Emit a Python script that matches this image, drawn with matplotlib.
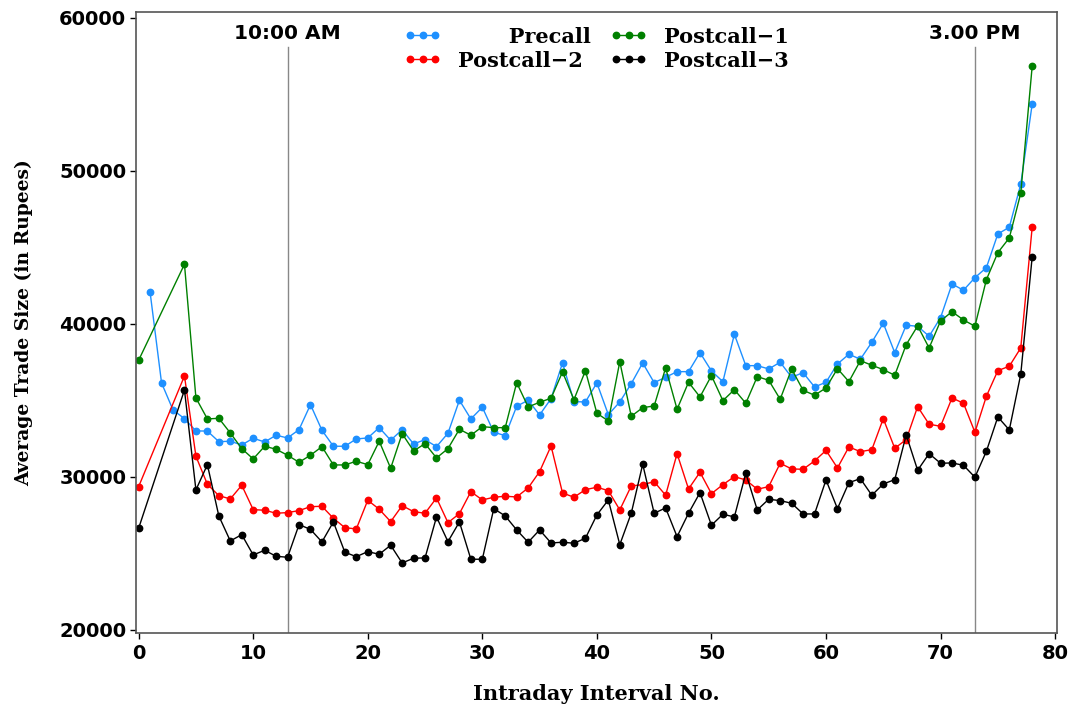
import matplotlib
matplotlib.use("Agg")
import matplotlib.pyplot as plt
import numpy as np

# ---------------- data ----------------
x_pre = list(range(1, 79))
precall = [42072, 36144, 34379, 33810, 33006, 33000, 32307, 32333, 32091, 32529,
           32287, 32725, 32549, 33091, 34725, 33052, 32006, 32006, 32483, 32549,
           33222, 32398, 33091, 32157, 32438, 31980, 32856, 35013, 33791, 34555,
           32921, 32699, 34621, 35013, 34052, 35118, 37451, 34921, 34902, 36144,
           34072, 34902, 36098, 37451, 36163, 36516, 36882, 36882, 38124, 36928,
           36229, 39327, 37274, 37274, 37059, 37496, 36516, 36817, 35882, 36189,
           37385, 38019, 37693, 38804, 40046, 38124, 39915, 39850, 39196, 40412,
           42614, 42203, 43026, 43680, 45882, 46320, 49131, 54379]

x_post = [0] + list(range(4, 79))
post1 = [37627, 43902, 35163, 33791, 33834, 32876, 31850, 31176, 32006, 31810,
         31418, 30960, 31418, 31980, 30784, 30784, 31026, 30804, 32333, 30568,
         32830, 31699, 32176, 31242, 31850, 33117, 32725, 33287, 33222, 33222,
         36163, 34575, 34882, 35144, 36863, 35052, 36948, 34163, 33660, 37536,
         33967, 34529, 34640, 37124, 34425, 36189, 35229, 36621, 34987, 35706,
         34817, 36555, 36320, 35078, 37059, 35666, 35340, 35817, 37078, 36229,
         37601, 37300, 37013, 36647, 38647, 39869, 38431, 40196, 40804, 40261,
         39850, 42895, 44660, 45621, 48542, 56863]
post2 = [29366, 36601, 31353, 29523, 28778, 28562, 29457, 27863, 27824, 27627,
         27670, 27800, 28059, 28080, 27300, 26686, 26600, 28477, 27889, 27078,
         28124, 27732, 27627, 28627, 27013, 27601, 29039, 28496, 28673, 28738,
         28693, 29281, 30346, 32026, 28954, 28673, 29170, 29326, 29106, 27843,
         29412, 29496, 29692, 28804, 31523, 29215, 30307, 28908, 29496, 30019,
         29804, 29196, 29366, 30895, 30523, 30501, 31046, 31735, 30588, 31961,
         31653, 31784, 33810, 31876, 32438, 34595, 33444, 33313, 35163, 34817,
         32921, 35275, 36948, 37235, 38431, 46340]
post3 = [26647, 35686, 29150, 30804, 27451, 25817, 26228, 24902, 25206, 24814,
         24750, 26882, 26573, 25751, 27059, 25078, 24790, 25117, 24947, 25536,
         24379, 24686, 24708, 27385, 25771, 27059, 24621, 24621, 27928, 27451,
         26536, 25732, 26536, 25686, 25732, 25667, 25993, 27516, 28496, 25575,
         27627, 30830, 27627, 27974, 26098, 27627, 28974, 26843, 27562, 27385,
         30242, 27843, 28542, 28451, 28281, 27581, 27581, 29804, 27928, 29627,
         29889, 28804, 29542, 29823, 32745, 30438, 31523, 30895, 30915, 30764,
         29980, 31679, 33921, 33072, 36712, 44399]

labels = ["Precall", "Postcall\u22121", "Postcall\u22122", "Postcall\u22123"]
colors = ["#1E90FF", "green", "red", "black"]
vlines = [13, 73]
vlabels = ["10:00 AM", "3.00 PM"]
xticks = list(range(0, 81, 10))
yticks = list(range(20000, 60001, 10000))

# ---------------- plot ----------------
serif = {'family': 'DejaVu Serif', 'weight': 'bold'}
sans = {'family': 'DejaVu Sans', 'weight': 'bold'}

fig = plt.figure(figsize=(10.76, 7.13), dpi=100)
ax = fig.add_axes([0.1264, 0.1122, 0.8559, 0.871])

series = [(x_pre, precall), (x_post, post1), (x_post, post2), (x_post, post3)]
handles = []
for (xs, ys), lab, c in zip(series, labels, colors):
    h, = ax.plot(xs, ys, '-o', color=c, lw=1.0, ms=4.6, label=lab)
    handles.append(h)

for xv, lab in zip(vlines, vlabels):
    ax.axvline(xv, ymin=0, ymax=0.943, color='#888888', lw=1.0, zorder=0)
    ax.text(xv, 0.966, lab, transform=ax.get_xaxis_transform(),
            ha='center', va='center', fontsize=14.5, **sans)

ax.set_xlim(-0.23, 80.16)
ax.set_ylim(19800, 60390)
ax.set_xticks(xticks)
ax.set_yticks(yticks)
ax.tick_params(axis='both', labelsize=14, direction='out', length=4, width=1)
ax.tick_params(axis='x', pad=4)
ax.tick_params(axis='y', pad=3)
for t in ax.get_xticklabels() + ax.get_yticklabels():
    t.set_fontfamily('DejaVu Sans')
    t.set_fontweight('bold')
ax.set_xlabel("Intraday Interval No.", fontsize=15, labelpad=15, fontdict=serif)
ax.set_ylabel("Average Trade Size (in Rupees)", fontsize=13.5, labelpad=19, fontdict=serif)

for s in ax.spines.values():
    s.set_color('#555555')
    s.set_linewidth(1.2)

order = [0, 2, 1, 3]
leg_labels = ["       " + labels[0], labels[2], labels[1], labels[3]]
leg = ax.legend([handles[i] for i in order], leg_labels,
                loc='upper center', ncol=2, frameon=False, numpoints=3,
                prop={'family': 'DejaVu Serif', 'weight': 'bold', 'size': 15},
                handlelength=1.8, handletextpad=0.8, markerscale=1.0,
                columnspacing=0.9, labelspacing=0.2, borderaxespad=0.3)

fig.savefig("out.png", dpi=100)
